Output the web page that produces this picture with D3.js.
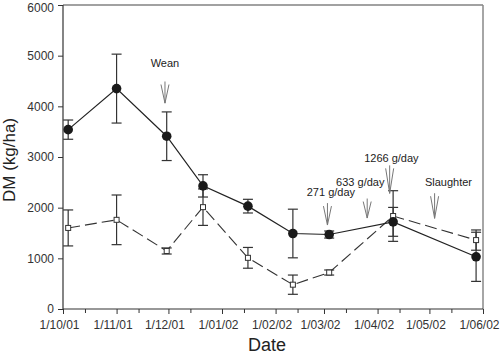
<!DOCTYPE html>
<html>
<head>
<meta charset="utf-8">
<script src="https://cdnjs.cloudflare.com/ajax/libs/d3/7.8.5/d3.min.js"></script>
<style>
	body { margin: 0; background: #fff; }
	svg { display: block; font-family: "Liberation Sans", Arial, sans-serif; }
</style>
</head>
<body>
<div id="svg-container"></div>
<script>
var sampleDates = ["2001-10-04", "2001-11-01", "2001-11-30", "2001-12-21", "2002-01-16", "2002-02-11", "2002-03-04", "2002-04-10", "2002-05-28"];

// filled circles, solid line
var dmHigh = [3540, 4350, 3410, 2430, 2030, 1490, 1470, 1720, 1030];
var errHigh = [190, 680, 480, 220, 135, 480, 70, 285, 485];

// open squares, dashed line
var dmLow = [1600, 1760, 1145, 2010, 1010, 480, 720, 1835, 1360];
var errLow = [355, 490, 60, 360, 205, 190, 50, 500, 200];

var yTicks = [0, 1000, 2000, 3000, 4000, 5000, 6000];
var monthTicks = ["2001-10-01", "2001-11-01", "2001-12-01", "2002-01-01", "2002-02-01", "2002-03-01", "2002-04-01", "2002-05-01", "2002-06-01"];

// arrows: date, label, tip value, arrow top value, label value, label date
var noteLabels = ["Wean", "271 g/day", "633 g/day", "1266 g/day", "Slaughter"];
var noteDates = ["2001-11-29", "2002-03-03", "2002-03-26", "2002-04-08", "2002-05-04"];
var noteTips = [4063, 1657, 1795, 2282, 1789];
var noteTops = [4490, 2090, 2180, 2835, 2285];
var noteTextVals = [4780, 2230, 2420, 2900, 2420];
var noteTextDates = ["2001-11-29", "2002-03-05", "2002-03-22", "2002-04-09", "2002-05-12"];

function drawChart () {
	var container = document.getElementById("svg-container");
	var w = 500;
	var h = 354;
	var margin = {top: 5, right: 17, bottom: 45, left: 63};
	var parse = d3.timeParse("%Y-%m-%d");
	var ink = "#222";

	var svg = d3.select(container).append("svg")
		.attr("width", w)
		.attr("height", h);

	var x = d3.scaleTime()
		.domain([parse("2001-10-01"), parse("2002-06-01")])
		.range([margin.left, w - margin.right]);

	var y = d3.scaleLinear()
		.domain([0, 6000])
		.range([h - margin.bottom, margin.top]);

	// frame top and right
	svg.append("line")
		.attr("x1", margin.left).attr("x2", w - margin.right)
		.attr("y1", margin.top).attr("y2", margin.top)
		.attr("stroke", "#444").attr("stroke-width", 1.2);
	svg.append("line")
		.attr("x1", w - margin.right).attr("x2", w - margin.right)
		.attr("y1", margin.top).attr("y2", h - margin.bottom)
		.attr("stroke", "#888").attr("stroke-width", 1.5);

	// y axis
	var yAxis = svg.append("g")
		.attr("transform", "translate(" + margin.left + ",0)")
		.call(d3.axisLeft(y).tickValues(yTicks).tickFormat(d3.format("d")).tickSize(5).tickPadding(4));

	// x axis
	var majors = monthTicks.map(parse);
	var minors = majors.slice(0, -1).map(function (d) { return d3.timeDay.offset(d, 13); });

	var xAxis = svg.append("g")
		.attr("transform", "translate(0," + (h - margin.bottom) + ")")
		.call(d3.axisBottom(x).tickValues(majors).tickFormat(d3.timeFormat("1/%m/%y")).tickSize(5).tickPadding(6));

	svg.append("g")
		.attr("transform", "translate(0," + (h - margin.bottom) + ")")
		.selectAll("line")
		.data(minors)
		.enter()
		.append("line")
		.attr("x1", function (d) { return x(d); })
		.attr("x2", function (d) { return x(d); })
		.attr("y1", 0).attr("y2", 4)
		.attr("stroke", "#333");

	[yAxis, xAxis].forEach(function (ax) {
		ax.select(".domain").attr("stroke", "#333").attr("stroke-width", 1.2);
		ax.selectAll(".tick line").attr("stroke", "#333");
		ax.selectAll("text").attr("fill", "#333").attr("font-size", 12).attr("font-family", "Liberation Sans, Arial, sans-serif");
	});
	xAxis.selectAll(".tick text").attr("dx", -4);
	// keep the top label inside the page
	yAxis.selectAll(".tick text").filter(function (d) { return d === 6000; }).attr("dy", "0.5em");
	yAxis.select(".domain").attr("d", "M0," + (h - margin.bottom) + "V" + margin.top);
	xAxis.select(".domain").attr("d", "M" + margin.left + ",0H" + (w - margin.right));

	// axis titles
	svg.append("text")
		.attr("x", 267).attr("y", 351)
		.attr("text-anchor", "middle")
		.attr("font-size", 18)
		.attr("fill", ink)
		.text("Date");

	svg.append("text")
		.attr("transform", "translate(15,160) rotate(-90)")
		.attr("text-anchor", "middle")
		.attr("font-size", 17)
		.attr("fill", ink)
		.text("DM (kg/ha)");

	var dates = sampleDates.map(parse);
	var high = dates.map(function (d, i) { return {date: d, v: dmHigh[i], e: errHigh[i]}; });
	var low = dates.map(function (d, i) { return {date: d, v: dmLow[i], e: errLow[i]}; });

	var line = d3.line()
		.x(function (d) { return x(d.date); })
		.y(function (d) { return y(d.v); });

	svg.append("path")
		.datum(low)
		.attr("d", line)
		.attr("fill", "none")
		.attr("stroke", "#333")
		.attr("stroke-width", 1.1)
		.attr("stroke-dasharray", "12,5");

	svg.append("path")
		.datum(high)
		.attr("d", line)
		.attr("fill", "none")
		.attr("stroke", "#222")
		.attr("stroke-width", 1.2);

	function errorBars (data, cls) {
		var g = svg.append("g").attr("class", cls)
			.selectAll("g")
			.data(data)
			.enter()
			.append("g")
			.attr("stroke", "#333")
			.attr("stroke-width", 1.2);

		g.append("line")
			.attr("x1", function (d) { return x(d.date); })
			.attr("x2", function (d) { return x(d.date); })
			.attr("y1", function (d) { return y(d.v + d.e); })
			.attr("y2", function (d) { return y(d.v - d.e); });

		[1, -1].forEach(function (s) {
			g.append("line")
				.attr("x1", function (d) { return x(d.date) - 5; })
				.attr("x2", function (d) { return x(d.date) + 5; })
				.attr("y1", function (d) { return y(d.v + s * d.e); })
				.attr("y2", function (d) { return y(d.v + s * d.e); });
		});
	}

	errorBars(low, "err-low");
	errorBars(high, "err-high");

	svg.append("g")
		.selectAll("rect")
		.data(low)
		.enter()
		.append("rect")
		.attr("x", function (d) { return x(d.date) - 2.5; })
		.attr("y", function (d) { return y(d.v) - 2.5; })
		.attr("width", 5)
		.attr("height", 5)
		.attr("fill", "#fff")
		.attr("stroke", "#333")
		.attr("stroke-width", 1);

	svg.append("g")
		.selectAll("circle")
		.data(high)
		.enter()
		.append("circle")
		.attr("cx", function (d) { return x(d.date); })
		.attr("cy", function (d) { return y(d.v); })
		.attr("r", 4.8)
		.attr("fill", "#1a1a1a");

	// annotation arrows
	var notes = noteLabels.map(function (t, i) {
		return {
			label: t,
			date: parse(noteDates[i]),
			tip: noteTips[i],
			top: noteTops[i],
			textVal: noteTextVals[i],
			textDate: parse(noteTextDates[i])
		};
	});

	var arrows = svg.append("g")
		.selectAll("g")
		.data(notes)
		.enter()
		.append("g")
		.attr("stroke", "#777")
		.attr("stroke-width", 1)
		.attr("fill", "none");

	arrows.append("path")
		.attr("d", function (d) {
			var ax = x(d.date), y0 = y(d.top), y1 = y(d.tip);
			return "M" + ax + "," + y0 + "V" + y1 +
				"M" + (ax - 4) + "," + (y0 + 3) + "L" + ax + "," + y1 +
				"L" + (ax + 4) + "," + (y0 + 3);
		});

	svg.append("g")
		.selectAll("text")
		.data(notes)
		.enter()
		.append("text")
		.attr("x", function (d) { return x(d.textDate); })
		.attr("y", function (d) { return y(d.textVal); })
		.attr("text-anchor", "middle")
		.attr("font-size", 11)
		.attr("fill", ink)
		.text(function (d) { return d.label; });
}

drawChart();
</script>
</body>
</html>
